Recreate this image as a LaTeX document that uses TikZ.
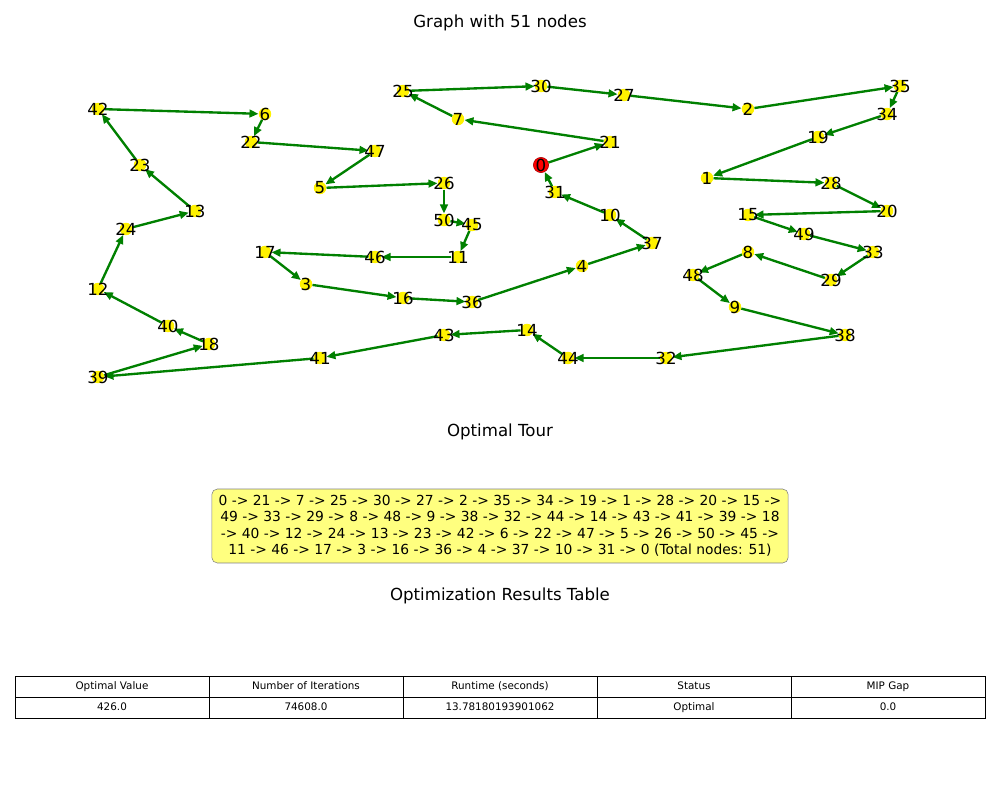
\documentclass[tikz,border=0pt]{standalone}
\usepackage{fontspec}
\setmainfont{DejaVu Sans}
\usetikzlibrary{arrows.meta}
\definecolor{tourgreen}{RGB}{0,128,0}
\definecolor{boxyellow}{RGB}{255,255,127}

\begin{document}
\begin{tikzpicture}[x=0.01in, y=-0.01in,
    city/.style={circle, fill=yellow, inner sep=0pt, minimum size=9pt},
    depot/.style={circle, fill=red, draw=red!65!black, inner sep=0pt, minimum size=11pt},
    tour/.style={tourgreen, line width=1.7pt, -{Triangle[length=6.5pt,width=5.5pt]}},
    citylbl/.style={font=\fontsize{12}{14}\selectfont, inner sep=0pt},
    ttl/.style={font=\fontsize{12}{14}\selectfont},
    tabtxt/.style={font=\fontsize{7.5}{9}\selectfont, text height=5.5pt, text depth=1.5pt, inner sep=0pt}]
    \useasboundingbox (0,0) rectangle (1000,800);
    \node[ttl] (gtitle) at (500,23) {Graph with 51 nodes};
    % cities
    \node[depot] (n0) at (541,165) {};
    \foreach \n/\x/\y in {21/610/142, 7/458/119, 25/403/91, 30/541/86, 27/624/95, 2/748/109,
        35/900/86, 34/887/114, 19/818/137, 1/707/178, 28/831/183, 20/887/211, 15/748/215,
        49/804/234, 33/873/252, 29/831/280, 8/748/252, 48/693/275, 9/735/307, 38/845/335,
        32/666/358, 44/568/358, 14/527/330, 43/444/335, 41/320/358, 39/98/377, 18/209/344,
        40/168/326, 12/98/289, 24/126/229, 13/195/211, 23/140/165, 42/98/109, 6/265/114,
        22/251/142, 47/375/151, 5/320/188, 26/444/183, 50/444/220, 45/472/225, 11/458/257,
        46/375/257, 17/265/252, 3/306/284, 16/403/298, 36/472/302, 4/582/266, 37/652/243,
        10/610/215, 31/555/192}
        \node[city] (n\n) at (\x,\y) {};
    % tour
    \foreach \a/\b in {0/21, 21/7, 7/25, 25/30, 30/27, 27/2, 2/35, 35/34, 34/19, 19/1, 1/28,
        28/20, 20/15, 15/49, 49/33, 33/29, 29/8, 8/48, 48/9, 9/38, 38/32, 32/44, 44/14, 14/43,
        43/41, 41/39, 39/18, 18/40, 40/12, 12/24, 24/13, 13/23, 23/42, 42/6, 6/22, 22/47, 47/5,
        5/26, 26/50, 50/45, 45/11, 11/46, 46/17, 17/3, 3/16, 16/36, 36/4, 4/37, 37/10, 10/31, 31/0}
        \draw[tour] (n\a) -- (n\b);
    \foreach \n in {0,...,50}
        \node[citylbl] at (n\n) {\n};
    % optimal tour
    \node[ttl] (ttitle) at (500,432) {Optimal Tour};
    \node[draw=gray, fill=boxyellow, rounded corners=4pt, align=center, inner xsep=5pt, inner ysep=4.5pt,
        font=\fontsize{10}{11.9}\selectfont] (tourbox) at (500,526)
        {0 -> 21 -> 7 -> 25 -> 30 -> 27 -> 2 -> 35 -> 34 -> 19 -> 1 -> 28 -> 20 -> 15 ->\\
         49 -> 33 -> 29 -> 8 -> 48 -> 9 -> 38 -> 32 -> 44 -> 14 -> 43 -> 41 -> 39 -> 18\\
         -> 40 -> 12 -> 24 -> 13 -> 23 -> 42 -> 6 -> 22 -> 47 -> 5 -> 26 -> 50 -> 45 ->\\
         11 -> 46 -> 17 -> 3 -> 16 -> 36 -> 4 -> 37 -> 10 -> 31 -> 0 (Total nodes: 51)};
    % results table
    \node[ttl] (rtitle) at (500,596) {Optimization Results Table};
    \foreach \i/\h/\v in {0/{Optimal Value}/{426.0}, 1/{Number of Iterations}/{74608.0},
        2/{Runtime (seconds)}/{13.78180193901062}, 3/{Status}/{Optimal}, 4/{MIP Gap}/{0.0}} {
        \draw[line width=0.7pt] (15+194*\i,676) rectangle (209+194*\i,697);
        \draw[line width=0.7pt] (15+194*\i,697) rectangle (209+194*\i,718);
        \node[tabtxt] at (112+194*\i,686.5) {\h};
        \node[tabtxt] at (112+194*\i,707.5) {\v};
    }
\end{tikzpicture}
\end{document}
